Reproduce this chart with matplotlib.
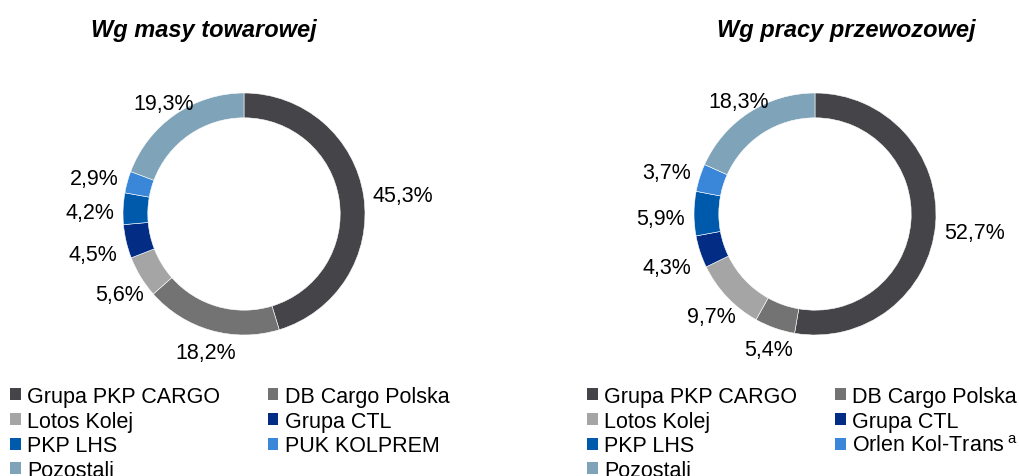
import numpy as np
import matplotlib
matplotlib.use("Agg")
import matplotlib.pyplot as plt
from matplotlib.patches import Patch

plt.rcParams["font.family"] = ["Liberation Sans", "DejaVu Sans"]
plt.rcParams["mathtext.fontset"] = "custom"
plt.rcParams["mathtext.rm"] = "Liberation Sans"

# ---- data -------------------------------------------------------------------
titles = ["Wg masy towarowej", "Wg pracy przewozowej"]
labels_left = ["Grupa PKP CARGO", "DB Cargo Polska", "Lotos Kolej", "Grupa CTL",
               "PKP LHS", "PUK KOLPREM", "Pozostali"]
labels_right = ["Grupa PKP CARGO", "DB Cargo Polska", "Lotos Kolej", "Grupa CTL",
                "PKP LHS", "Orlen Kol-Trans$\\,^{\\mathrm{a}}$", "Pozostali"]
shares_left = [45.3, 18.2, 5.6, 4.5, 4.2, 2.9, 19.3]
shares_right = [52.7, 5.4, 9.7, 4.3, 5.9, 3.7, 18.3]
colors = ["#454449", "#737373", "#a5a5a5", "#032d85", "#005aab", "#3a87d9", "#7fa3b8"]

W, H = 1019, 477
R_PX = 121          # outer radius in pixels
GAP_PX = 9          # gap between ring and label box
DROP_PX = 5         # labels sit a touch lower than the mid-angle ray
FS = 15.5

fig = plt.figure(figsize=(W / 100, H / 100), dpi=100)
renderer = fig.canvas.get_renderer()


def donut(cx, cy, shares, labels, title, tx, leg_x, colsp):
    half = 1.5 * R_PX
    ax = fig.add_axes([(cx - half) / W, (H - cy - half) / H, 2 * half / W, 2 * half / H])
    wedges, _ = ax.pie(shares, colors=colors, startangle=90, counterclock=False,
                       radius=1.0, wedgeprops=dict(width=0.205, edgecolor="white", linewidth=0.4))
    ax.set_xlim(-1.5, 1.5)
    ax.set_ylim(-1.5, 1.5)
    ax.set_aspect("equal")
    ax.axis("off")
    # "outside end" labels: the box centre sits on the mid-angle ray, just clear of the ring
    for w, v in zip(wedges, shares):
        mid = np.radians((w.theta1 + w.theta2) / 2)
        c, s = np.cos(mid), np.sin(mid)
        t = ax.text(0, 0, f"{v:.1f}%".replace(".", ","), ha="center", va="center", fontsize=FS)
        bb = t.get_window_extent(renderer)
        hw, hh = bb.width / 2, (bb.height / 2) * 0.8
        d = min(hw / max(abs(c), 1e-6), hh / max(abs(s), 1e-6))
        dist = (R_PX + GAP_PX + d) / R_PX
        t.set_position((dist * c, dist * s - DROP_PX / R_PX))

    fig.text(tx / W, 1 - 30 / H, title, ha="center", va="center", fontsize=17,
             fontweight="bold", fontstyle="italic")

    # legend: row-major order across two columns
    handles = [Patch(facecolor=c, edgecolor="none") for c in colors]
    order = [0, 2, 4, 6, 1, 3, 5]
    fig.legend([handles[i] for i in order], [labels[i] for i in order],
               loc="upper left", bbox_to_anchor=(leg_x / W, 1 - 387 / H), ncol=2,
               frameon=False, fontsize=FS, handlelength=0.5, handleheight=0.5,
               handletextpad=0.3, columnspacing=colsp, labelspacing=0.17, borderpad=0,
               borderaxespad=0)


donut(244, 215, shares_left, labels_left, titles[0], 204, 10, 2.2)
donut(815, 215, shares_right, labels_right, titles[1], 846, 587, 1.75)

fig.savefig("out.png", dpi=100)
